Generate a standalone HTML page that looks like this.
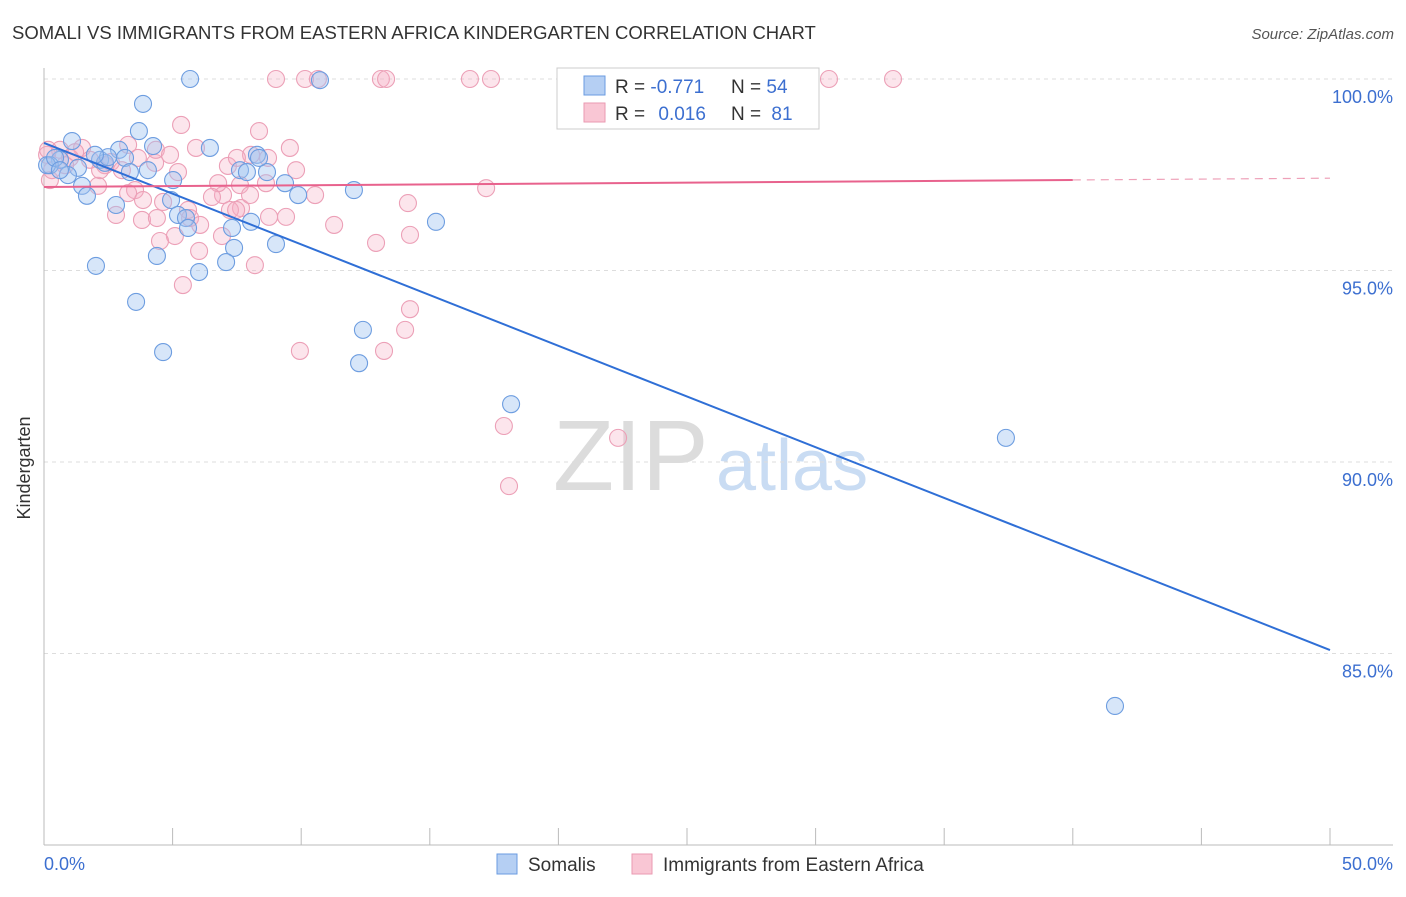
<!DOCTYPE html>
<html><head><meta charset="utf-8"><style>
body{margin:0;background:#fff;font-family:"Liberation Sans",sans-serif}
svg text{font-family:"Liberation Sans",sans-serif}
</style></head><body>
<svg width="1406" height="892">
<text x="12" y="39" font-size="18.5" fill="#333">SOMALI VS IMMIGRANTS FROM EASTERN AFRICA KINDERGARTEN CORRELATION CHART</text>
<text x="1394" y="39" font-size="15" fill="#555" font-style="italic" text-anchor="end">Source: ZipAtlas.com</text>
<g>
<text x="553" y="490" font-size="100" font-family="Liberation Serif,serif" fill="#dcdcdc">ZIP</text>
<text x="716" y="490" font-size="72" fill="#c9dcf3">atlas</text>
</g>
<g id="grid"></g>
<line x1="44" y1="68" x2="44" y2="845" stroke="#bbb"/>
<line x1="44" y1="845" x2="1393" y2="845" stroke="#bbb"/>
<g id="ticks"></g>
<text x="18" y="456" font-size="18" fill="#333" transform="rotate(-90 30 456)" text-anchor="middle">Kindergarten</text>
<text x="44" y="870" font-size="18" fill="#3c6fd0">0.0%</text>
<text x="1393" y="870" font-size="18" fill="#3c6fd0" text-anchor="end">50.0%</text>
<g id="pts"></g>
<g id="trend"></g>
<g>
<rect x="557" y="68" width="262" height="61" fill="#fff" stroke="#ccc"/>
<rect x="584" y="76" width="21" height="19" fill="#b5cff3" stroke="#6a9be0"/>
<rect x="584" y="103" width="21" height="19" fill="#f9c6d4" stroke="#ea9ab2"/>
<text x="615" y="93" font-size="19" fill="#333">R = <tspan fill="#3c6fd0">-0.771</tspan></text>
<text x="731" y="93" font-size="19" fill="#333">N = <tspan fill="#3c6fd0">54</tspan></text>
<text x="615" y="120" font-size="19" fill="#333">R = <tspan fill="#3c6fd0" dx="8">0.016</tspan></text>
<text x="731" y="120" font-size="19" fill="#333">N = <tspan fill="#3c6fd0" dx="5">81</tspan></text>
</g>
<g>
<rect x="497" y="854" width="20" height="20" fill="#b5cff3" stroke="#6a9be0"/>
<text x="528" y="871" font-size="19" fill="#333">Somalis</text>
<rect x="632" y="854" width="20" height="20" fill="#f9c6d4" stroke="#ea9ab2"/>
<text x="663" y="871" font-size="19" fill="#333">Immigrants from Eastern Africa</text>
</g>
</svg>
<script>
const yTicks=[100,95,90,85];
const yTickLabels=["100.0%","95.0%","90.0%","85.0%"];
const xTicks=[0,5,10,15,20,25,30,35,40,45,50];
const somaliX=[5.68,3.85,3.69,1.09,4.24,6.45,2.92,3.15,2.18,2.37,0.62,0.23,1.32,3.34,4.04,7.62,7.89,8.67,8.28,8.36,0.93,1.48,5.02,9.37,1.67,2.80,4.94,9.88,12.05,5.21,5.52,5.60,7.31,8.05,15.24,7.39,9.02,4.39,7.08,6.03,2.02,3.58,4.63,12.40,12.25,18.16,37.40,41.64,0.12,0.43,2.49,10.73,1.98,0.62];
const somaliY=[100,99.35,98.64,98.38,98.25,98.20,98.15,97.94,97.89,97.81,97.89,97.75,97.68,97.57,97.62,97.62,97.57,97.57,98.02,97.94,97.49,97.21,97.36,97.28,96.95,96.71,96.84,96.97,97.10,96.45,96.37,96.11,96.11,96.27,96.27,95.59,95.69,95.38,95.22,94.96,95.12,94.18,92.87,93.45,92.58,91.51,90.63,83.63,97.75,97.94,97.96,99.97,98.02,97.62];
const immX=[9.02,10.15,10.65,13.10,13.30,16.56,17.38,23.29,24.73,30.52,33.01,5.33,9.56,8.36,5.91,3.27,1.48,0.62,0.12,1.01,1.79,2.60,4.32,5.21,7.15,8.05,8.71,7.50,4.35,3.65,9.80,7.62,8.63,10.54,6.96,6.77,6.53,3.54,2.10,3.27,3.85,4.63,5.60,7.66,2.80,3.81,4.39,5.68,7.23,8.75,9.41,14.15,17.19,11.28,6.92,5.09,4.51,6.03,14.23,12.91,8.20,5.40,14.23,14.04,9.95,13.22,17.88,22.32,18.08,0.23,2.37,0.82,0.31,3.03,8.01,7.47,6.07,0.16,1.21,2.18,4.90];
const immY=[100,100,100,100,100,100,100,100,100,100,100,98.80,98.20,98.64,98.20,98.28,98.20,98.15,98.02,97.94,97.89,97.83,97.81,97.57,97.73,98.02,97.94,97.94,98.15,97.94,97.62,97.23,97.28,96.97,96.97,97.28,96.92,97.10,97.21,97.02,96.84,96.79,96.58,96.63,96.45,96.32,96.37,96.37,96.58,96.40,96.40,96.76,97.15,96.19,95.90,95.90,95.77,95.51,95.93,95.72,95.14,94.62,93.99,93.45,92.90,92.90,90.94,90.63,89.37,97.36,97.75,97.75,97.62,97.62,96.97,96.58,96.19,98.15,98.09,97.62,98.02];
const somaliTrend=[98.33,85.09];
const immTrend=[97.18,97.41];
const NS='http://www.w3.org/2000/svg';
const X=v=>44+v/50*1286;
const Y=v=>79+(100-v)*38.3;
function mk(t,a,p){const e=document.createElementNS(NS,t);for(const k in a)e.setAttribute(k,a[k]);p.appendChild(e);return e;}
const grid=document.getElementById('grid');
yTicks.forEach((v,i)=>{
 const l=mk('line',{x1:44,x2:1393,y1:Y(v),y2:Y(v),stroke:'#ddd','stroke-dasharray':'4,4'},grid);
 
 
 const t=mk('text',{x:1393,y:Y(v)+24,'font-size':18,fill:'#3c6fd0','text-anchor':'end'},grid);
 t.textContent=yTickLabels[i];
 
 
});
const ticks=document.getElementById('ticks');
xTicks.forEach(v=>{
 const l=mk('line',{x1:X(v),x2:X(v),y1:828,y2:845,stroke:'#bbb'},ticks);
 
 
});
const pts=document.getElementById('pts');
immX.forEach((x,i)=>{
 const c=mk('circle',{cx:X(x),cy:Y(immY[i]),r:8.5,fill:'rgba(246,175,196,0.32)',stroke:'#eca0b7','stroke-width':1.1},pts);
 
 
});
somaliX.forEach((x,i)=>{
 const c=mk('circle',{cx:X(x),cy:Y(somaliY[i]),r:8.5,fill:'rgba(160,196,240,0.42)',stroke:'#6d9de0','stroke-width':1.1},pts);
 
 
});
const tr=document.getElementById('trend');
let a=mk('line',{x1:X(0),y1:Y(somaliTrend[0]),x2:X(50),y2:Y(somaliTrend[1]),stroke:'#2f6fd6','stroke-width':2},tr);


const im=v=>immTrend[0]+(immTrend[1]-immTrend[0])*v/50;
let b=mk('line',{x1:X(0),y1:Y(im(0)),x2:X(40),y2:Y(im(40)),stroke:'#e8628d','stroke-width':2},tr);


let c=mk('line',{x1:X(40),y1:Y(im(40)),x2:X(50),y2:Y(im(50)),stroke:'#eea0b8','stroke-width':1.2,'stroke-dasharray':'8,6'},tr);


</script>
</body></html>
